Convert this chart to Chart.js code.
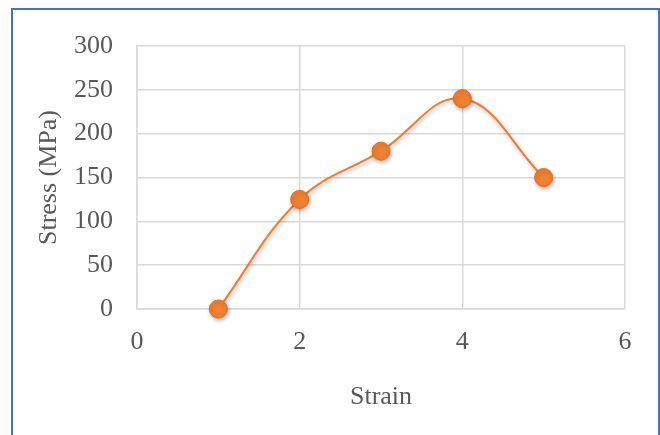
<!DOCTYPE html>
<html>
<head>
<meta charset="utf-8">
<script src="https://cdn.jsdelivr.net/npm/chart.js@4"></script>
<style>
  body { margin: 0; background: #fff; }
  #wrap { position: relative; width: 660px; height: 435px; overflow: hidden; }
  #frame { position: absolute; left: 11px; top: 8px; width: 645px; height: 440px; border: 2px solid #4472c4; }
  canvas { position: absolute; left: 0; top: 0; }
</style>
</head>
<body>
<div id="wrap">
  <div id="frame"></div>
  <canvas id="myChart" width="660" height="435"></canvas>
</div>
<script>
const strain = [1, 2, 3, 4, 5];
const stress = [0, 125, 180, 240, 150];

const shadowPlugin = {
    id: 'shadow',
    beforeDatasetsDraw(chart) {
        const ctx = chart.ctx;
        ctx.save();
        ctx.shadowColor = 'rgba(0, 0, 0, 0.3)';
        ctx.shadowBlur = 4;
        ctx.shadowOffsetX = 1;
        ctx.shadowOffsetY = 2;
    },
    afterDatasetsDraw(chart) {
        chart.ctx.restore();
    }
};

const textColor = '#595959';
const gridColor = '#d9d9d9';
const font = { family: 'Liberation Serif', size: 26 };

new Chart(document.getElementById('myChart').getContext('2d'), {
    type: 'scatter',
    data: {
        datasets: [{
            data: strain.map((x, i) => ({ x, y: stress[i] })),
            showLine: true,
            tension: 0.4,
            clip: false,
            borderColor: '#ed7d31',
            borderWidth: 2,
            backgroundColor: '#f08131',
            pointBorderColor: '#e0701f',
            pointBorderWidth: 1,
            pointRadius: 9,
            pointHoverRadius: 9
        }]
    },
    options: {
        responsive: false,
        animation: false,
        layout: { padding: { left: 34, top: 46, right: 35, bottom: 18 } },
        plugins: { legend: { display: false }, tooltip: { enabled: false } },
        scales: {
            x: {
                type: 'linear',
                min: 0,
                max: 6,
                ticks: { stepSize: 2, padding: 18, color: textColor, font },
                grid: { color: gridColor, lineWidth: 1.5, drawTicks: false },
                border: { color: gridColor, width: 1.5 },
                title: { display: true, text: 'Strain', color: textColor, font },
                afterFit(scale) { scale.height = 108; }
            },
            y: {
                min: 0,
                max: 300,
                ticks: { stepSize: 50, padding: 24, color: textColor, font },
                grid: { color: gridColor, lineWidth: 1.5, drawTicks: false },
                border: { color: gridColor, width: 1.5 },
                title: { display: true, text: 'Stress (MPa)', color: textColor, font, padding: 0 },
                afterFit(scale) { scale.width = 103; }
            }
        }
    },
    plugins: [shadowPlugin]
});
</script>
</body>
</html>
